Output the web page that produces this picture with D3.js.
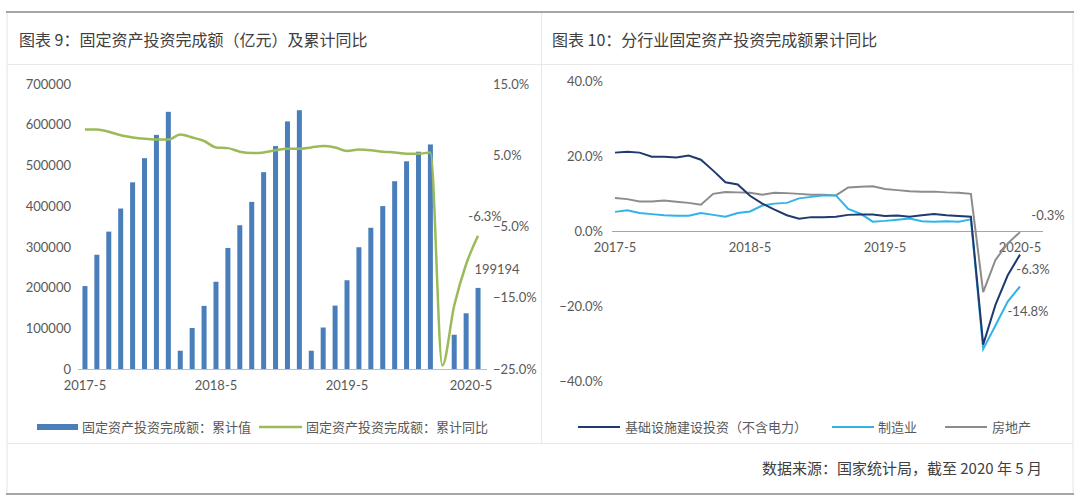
<!DOCTYPE html>
<html><head><meta charset="utf-8">
<script src="https://cdn.jsdelivr.net/npm/d3@7"></script>
<style>
body{margin:0;background:#fff;}
text{font-family:Lato,"Noto Sans CJK SC",sans-serif;fill:#595959;}
.cjk{font-family:"Noto Sans CJK SC",sans-serif;}
</style></head><body>
<svg id="c" width="1080" height="504"></svg>
<script>
const months = ["2017-5","2017-6","2017-7","2017-8","2017-9","2017-10","2017-11","2017-12",
"2018-2","2018-3","2018-4","2018-5","2018-6","2018-7","2018-8","2018-9","2018-10","2018-11","2018-12",
"2019-2","2019-3","2019-4","2019-5","2019-6","2019-7","2019-8","2019-9","2019-10","2019-11","2019-12",
"2020-2","2020-3","2020-4","2020-5"];
const xTickLabels = ["2017-5","2018-5","2019-5","2020-5"];
const faiValue = [203716,280605,337411,394150,458478,517817,575057,631684,
44944,100763,155064,214383,297316,353149,410461,483442,547567,608120,635636,
44849,101871,155747,217949,299100,346855,400101,461204,510153,533718,551478,
null,84145,136824,199194];
const faiYoY = [8.6,8.6,8.3,7.8,7.5,7.3,7.2,7.2,
7.9,7.5,7.0,6.1,6.0,5.5,5.3,5.4,5.7,5.9,5.9,
6.1,6.3,6.1,5.6,5.8,5.7,5.5,5.4,5.2,5.2,5.4,
-24.5,-16.1,-10.3,-6.3];
const infra = [20.9,21.1,20.9,19.8,19.8,19.6,20.1,19.0,
16.1,13.0,12.4,9.4,7.3,5.7,4.2,3.3,3.7,3.7,3.8,
4.3,4.4,4.4,4.0,4.1,3.8,4.2,4.5,4.2,4.0,3.8,
-30.3,-19.7,-11.8,-6.3];
const manuf = [5.1,5.5,4.8,4.5,4.2,4.1,4.1,4.8,
4.3,3.8,4.8,5.2,6.8,7.3,7.5,8.7,9.1,9.5,9.5,
5.9,4.6,2.5,2.7,3.0,3.3,2.6,2.5,2.6,2.5,3.1,
-31.5,-25.2,-18.8,-14.8];
const realty = [8.8,8.5,7.9,7.9,8.1,7.8,7.5,7.0,
9.9,10.4,10.3,10.2,9.7,10.2,10.1,9.9,9.7,9.7,9.5,
11.6,11.8,11.9,11.2,10.9,10.6,10.5,10.5,10.3,10.2,9.9,
-16.3,-7.7,-3.3,-0.3];
const leftTicks = [0,100000,200000,300000,400000,500000,600000,700000];
const rightTicks = [-25,-15,-5,5,15];
const sectorTicks = [-40,-20,0,20,40];
const legendLeft = ["固定资产投资完成额：累计值","固定资产投资完成额：累计同比"];
const legendRight = ["基础设施建设投资（不含电力）","制造业","房地产"];
const title1 = "图表 9：固定资产投资完成额（亿元）及累计同比";
const title2 = "图表 10：分行业固定资产投资完成额累计同比";
const source = "数据来源：国家统计局，截至 2020 年 5 月";

const svg = d3.select("#c");
// frame
svg.append("rect").attr("x",7).attr("y",12).attr("width",1066).attr("height",482).attr("fill","#fff").attr("stroke","#e4e4e4");
svg.append("line").attr("x1",6).attr("x2",1074).attr("y1",12).attr("y2",12).attr("stroke","#a6a6a6").attr("stroke-width",2);
svg.append("line").attr("x1",6).attr("x2",1074).attr("y1",494).attr("y2",494).attr("stroke","#a6a6a6").attr("stroke-width",2);
svg.append("line").attr("x1",7).attr("x2",1073).attr("y1",64.5).attr("y2",64.5).attr("stroke","#e8e8e8");
svg.append("line").attr("x1",7).attr("x2",1073).attr("y1",443.5).attr("y2",443.5).attr("stroke","#e8e8e8");
svg.append("line").attr("x1",541.5).attr("x2",541.5).attr("y1",13).attr("y2",443).attr("stroke","#e8e8e8");
svg.append("text").attr("class","cjk").attr("x",19).attr("y",46).attr("font-size",16).style("fill","#404040").text(title1);
svg.append("text").attr("class","cjk").attr("x",552).attr("y",46).attr("font-size",16).style("fill","#404040").text(title2);
svg.append("text").attr("class","cjk").attr("x",1042).attr("y",474).attr("text-anchor","end").attr("font-size",15).style("fill","#404040").text(source);

// ---- left chart
const xL = d3.scaleBand().domain(months).range([79,484]).paddingInner(0.58).paddingOuter(0.29);
const yL = d3.scaleLinear().domain([0,700000]).range([369,84]);
const yR = d3.scaleLinear().domain([-25,15]).range([369,84]);
const gL = svg.append("g");
const barData = faiValue.map((v,i)=>({m:months[i],v})).filter(d=>d.v!=null);
gL.selectAll("rect.bar").data(barData).join("rect").attr("class","bar")
  .attr("x",d=>xL(d.m)).attr("width",xL.bandwidth())
  .attr("y",d=>yL(d.v)).attr("height",d=>yL(0)-yL(d.v)).attr("fill","#4a7ebb");
gL.append("line").attr("x1",78).attr("x2",487).attr("y1",369.5).attr("y2",369.5).attr("stroke","#bfbfbf");
const axL = d3.axisLeft(yL).tickValues(leftTicks).tickSize(0).tickPadding(0).tickFormat(d3.format("d"));
gL.append("g").attr("transform","translate(71,0)").call(axL).call(g=>g.select(".domain").remove())
  .selectAll("text").attr("font-size",13).style("font-family","Lato").attr("fill","#595959");
const axR = d3.axisRight(yR).tickValues(rightTicks).tickSize(0).tickPadding(0).tickFormat(d=>d3.format(".1f")(d)+"%");
gL.append("g").attr("transform","translate(493,0)").call(axR).call(g=>g.select(".domain").remove())
  .selectAll("text").attr("font-size",13).style("font-family","Lato").attr("fill","#595959");
const cx = m => xL(m)+xL.bandwidth()/2;
const xLabelPos = {"2020-5":-7};
gL.selectAll("text.xl").data(xTickLabels).join("text").attr("class","xl")
  .attr("x",d=>cx(d)+(xLabelPos[d]||0)).attr("y",390).attr("text-anchor","middle").attr("font-size",13).text(d=>d);
gL.append("path").datum(faiYoY).attr("fill","none").attr("stroke","#9bbb59").attr("stroke-width",2.5)
  .attr("d",d3.line().x((d,i)=>cx(months[i])).y(d=>yR(d)).curve(d3.curveMonotoneX));
const lastI = months.length-1;
gL.append("text").attr("x",cx(months[lastI])+7).attr("y",yR(faiYoY[lastI])-15).attr("text-anchor","middle").attr("font-size",13).text(faiYoY[lastI].toFixed(1)+"%");
gL.append("text").attr("x",cx(months[lastI])+19).attr("y",yL(faiValue[lastI])-14).attr("text-anchor","middle").attr("font-size",13).text(faiValue[lastI]);
// left legend
svg.append("rect").attr("x",37).attr("y",424).attr("width",41).attr("height",6).attr("fill","#4a7ebb");
svg.append("text").attr("class","cjk").attr("x",82).attr("y",432).attr("font-size",13).text(legendLeft[0]);
svg.append("line").attr("x1",259).attr("x2",302).attr("y1",427).attr("y2",427).attr("stroke","#9bbb59").attr("stroke-width",2.5);
svg.append("text").attr("class","cjk").attr("x",306).attr("y",432).attr("font-size",13).text(legendLeft[1]);

// ---- right chart
const xS = d3.scalePoint().domain(months).range([615,1020]);
const yS = d3.scaleLinear().domain([-40,40]).range([381,81]);
const gR = svg.append("g");
const axS = d3.axisLeft(yS).tickValues(sectorTicks).tickSize(0).tickPadding(0).tickFormat(d=>d3.format(".1f")(d)+"%");
gR.append("g").attr("transform","translate(603,0)").call(axS).call(g=>g.select(".domain").remove())
  .selectAll("text").attr("font-size",13).style("font-family","Lato").attr("fill","#595959");
gR.append("line").attr("x1",612).attr("x2",1043).attr("y1",yS(0)+0.5).attr("y2",yS(0)+0.5).attr("stroke","#a6a6a6");
gR.selectAll("text.xs").data(xTickLabels).join("text").attr("class","xs")
  .attr("x",d=>xS(d)).attr("y",252).attr("text-anchor","middle").attr("font-size",13).text(d=>d);
const series = [
  {name:legendRight[0], values:infra, color:"#1f3a6e", lab:{dx:13,dy:19}},
  {name:legendRight[1], values:manuf, color:"#30b4e8", lab:{dx:8,dy:29}},
  {name:legendRight[2], values:realty, color:"#8c8c8c", lab:{dx:28,dy:-12}}
];
const lineS = d3.line().x((d,i)=>xS(months[i])).y(d=>yS(d));
series.slice().reverse().forEach(s=>{
  gR.append("path").datum(s.values).attr("fill","none").attr("stroke",s.color).attr("stroke-width",2).attr("d",lineS);
});
series.forEach(s=>{
  const v = s.values[lastI];
  gR.append("text").attr("x",xS(months[lastI])+s.lab.dx).attr("y",yS(v)+s.lab.dy).attr("text-anchor","middle").attr("font-size",13).text(v.toFixed(1)+"%");
});
// right legend
const legPos = [{x:578,tx:625},{x:832,tx:878},{x:945,tx:992}];
series.forEach((s,i)=>{
  svg.append("line").attr("x1",legPos[i].x).attr("x2",legPos[i].x+42).attr("y1",427).attr("y2",427).attr("stroke",s.color).attr("stroke-width",2);
  svg.append("text").attr("class","cjk").attr("x",legPos[i].tx).attr("y",432).attr("font-size",13).text(s.name);
});
</script></body></html>
